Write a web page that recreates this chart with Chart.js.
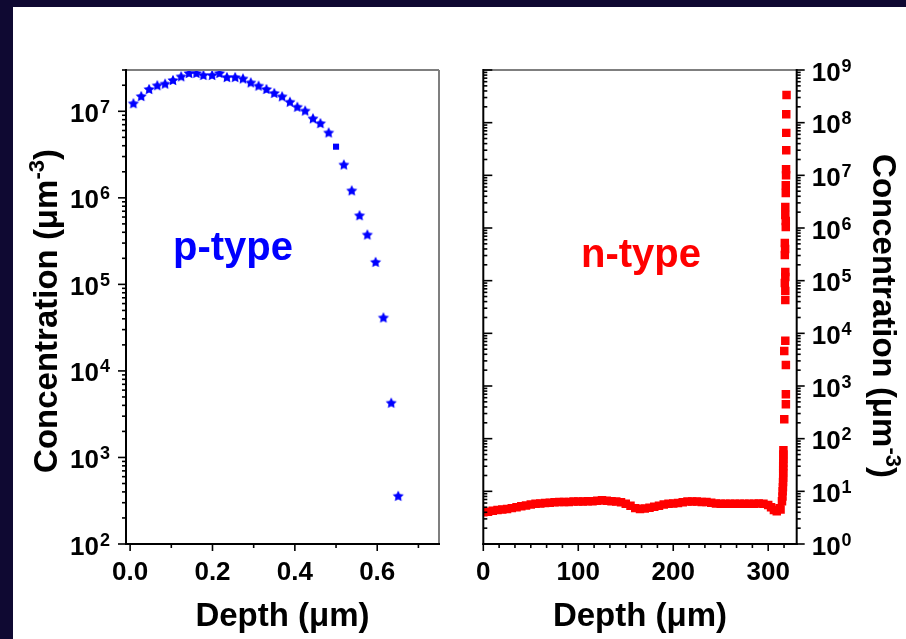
<!DOCTYPE html>
<html>
<head>
<meta charset="utf-8">
<script src="https://cdn.jsdelivr.net/npm/chart.js@4.4.0/dist/chart.umd.min.js"></script>
<style>
  html, body { margin: 0; padding: 0; width: 906px; height: 639px; overflow: hidden; background: #0f0932; }
  #sheet { position: absolute; left: 13px; top: 7px; right: 0; bottom: 0; background: #fff; }
  canvas { position: absolute; top: 0; }
  #pCanvas { left: 0; }
  #nCanvas { left: 462px; }
</style>
</head>
<body>
<div id="sheet"></div>
<canvas id="pCanvas" width="462" height="639"></canvas>
<canvas id="nCanvas" width="444" height="639"></canvas>
<script>
// ---- p-type (left panel), depth in um, concentration in um^-3
const pDepth = [0.008, 0.027, 0.046, 0.066, 0.085, 0.104, 0.124, 0.143, 0.161, 0.178,
                0.199, 0.217, 0.235, 0.255, 0.274, 0.293, 0.312, 0.331, 0.350, 0.369,
                0.388, 0.406, 0.425, 0.444, 0.462, 0.482, 0.500, 0.519, 0.538, 0.557,
                0.576, 0.596, 0.615, 0.634, 0.651];
const pConc = [1.24e7, 1.5e7, 1.81e7, 2.0e7, 2.09e7, 2.3e7, 2.54e7, 2.77e7, 2.77e7, 2.63e7,
               2.63e7, 2.77e7, 2.49e7, 2.49e7, 2.4e7, 2.16e7, 1.98e7, 1.81e7, 1.63e7, 1.49e7,
               1.29e7, 1.13e7, 1.02e7, 8.3e6, 7.3e6, 5.7e6, 3.9e6, 2.43e6, 1.22e6, 6.3e5,
               3.77e5, 1.82e5, 4.15e4, 4.3e3, 361];
const pSquareIndex = 26; // the one point drawn as a square

// ---- n-type (right panel)
const nDepth = [0, 5, 10, 15, 20, 25, 30, 35, 40, 45, 50, 55, 60, 65, 70, 75, 80, 85, 90, 95,
                100, 105, 110, 115, 120, 125, 130, 135, 140, 145, 150, 155, 160, 165, 170, 175,
                180, 185, 190, 195, 200, 205, 210, 215, 220, 225, 230, 235, 240, 245, 250, 255,
                260, 265, 270, 275, 280, 285, 290, 295, 300, 303, 306, 309, 312,
                313, 314.5, 315, 315.2, 315.5, 315.6, 315.8, 315.8, 315.8, 315.8, 315.9, 316, 316, 316,
                316.9, 318.6, 318.6, 318.6, 316.9, 318, 318, 318, 317.5, 318, 318, 317.5, 317.8, 317.5,
                318.5, 318.5, 318, 318, 318.5, 318.5, 318.8, 318.8, 319, 319, 319, 319.3];
const nConc = [4.0, 4.1, 4.3, 4.4, 4.5, 4.6, 4.8, 5.0, 5.2, 5.4, 5.6, 5.8, 5.9, 6.0, 6.1, 6.2, 6.3, 6.3, 6.3, 6.4,
               6.4, 6.4, 6.5, 6.5, 6.6, 6.8, 6.6, 6.5, 6.4, 6.2, 5.8, 5.3, 4.8, 4.6, 4.7, 4.9,
               5.1, 5.3, 5.6, 5.8, 5.9, 6.0, 6.2, 6.4, 6.4, 6.4, 6.3, 6.3, 6.1, 5.9, 5.8, 5.8,
               5.8, 5.8, 5.8, 5.8, 5.8, 5.8, 5.9, 5.8, 5.5, 5.0, 4.4, 4.2, 4.8,
               4.5, 6.5, 8, 10, 12, 15, 18, 22, 26, 30, 35, 42, 50, 60,
               233, 449, 695, 2500, 4600, 7200, 4.3e4, 6.4e4, 9e4, 1.17e5, 1.46e5, 3.07e5, 4e5, 5.2e5,
               1.04e6, 1.36e6, 1.76e6, 2.5e6, 4.6e6, 6.5e6, 1e7, 1.3e7, 3e7, 6.4e7, 1.44e8, 3.35e8];

// ---- axes / ticks
const pXTicks = [0, 0.2, 0.4, 0.6];
const pXTickLabels = ['0.0', '0.2', '0.4', '0.6'];
const pXMinor = [0.1, 0.3, 0.5, 0.7];
const pYExps = [2, 3, 4, 5, 6, 7];
const nXTicks = [0, 100, 200, 300];
const nXTickLabels = ['0', '100', '200', '300'];
const nYExps = [0, 1, 2, 3, 4, 5, 6, 7, 8, 9];

const FONT = '"Liberation Sans", Arial, sans-serif';
const TICK_PX = 26, SUP_PX = 18, SUP_RISE = 9;
const TITLE_PX = 33, TITLE_SUP_PX = 22, TITLE_SUP_RISE = 13;
const BLUE = '#0000ff', RED = '#ff0000', FRAME_GRAY = '#7f7f7f';

function makeStar(r, color) {
  const c = document.createElement('canvas');
  const s = Math.ceil(r * 2) + 2;
  c.width = c.height = s;
  const g = c.getContext('2d');
  g.fillStyle = color;
  g.beginPath();
  for (let i = 0; i < 10; i++) {
    const rad = i % 2 ? r * 0.5 : r;
    const ang = -Math.PI / 2 + i * Math.PI / 5;
    g.lineTo(s / 2 + rad * Math.cos(ang), s / 2 + 0.6 + rad * Math.sin(ang));
  }
  g.closePath();
  g.fill();
  return c;
}
const starImg = makeStar(5.8, BLUE);

function seg(ctx, x1, y1, x2, y2) {
  ctx.beginPath(); ctx.moveTo(x1, y1); ctx.lineTo(x2, y2); ctx.stroke();
}

function drawPow(ctx, exp, x, baseY, align) {
  const main = `bold ${TICK_PX}px ${FONT}`, sup = `bold ${SUP_PX}px ${FONT}`;
  ctx.font = main; const w1 = ctx.measureText('10').width;
  ctx.font = sup; const w2 = ctx.measureText(String(exp)).width;
  const x0 = align === 'right' ? x - w1 - w2 - 1 : x;
  ctx.textAlign = 'left'; ctx.textBaseline = 'alphabetic';
  ctx.font = main; ctx.fillText('10', x0, baseY);
  ctx.font = sup; ctx.fillText(String(exp), x0 + w1 + 1, baseY - SUP_RISE);
}

function drawRich(ctx, parts, cx, cy, angle) {
  ctx.save();
  ctx.translate(cx, cy); ctx.rotate(angle);
  ctx.textAlign = 'left'; ctx.textBaseline = 'alphabetic';
  let total = 0;
  parts.forEach(p => { ctx.font = p.font; p.w = ctx.measureText(p.t).width; total += p.w; });
  let x = -total / 2;
  parts.forEach(p => { ctx.font = p.font; ctx.fillText(p.t, x, p.dy || 0); x += p.w; });
  ctx.restore();
}

const titleFont = `bold ${TITLE_PX}px ${FONT}`;
const titleSup = `bold ${TITLE_SUP_PX}px ${FONT}`;
const concTitle = () => [
  { t: 'Concentration (\u03bcm', font: titleFont },
  { t: '-3', font: titleSup, dy: -TITLE_SUP_RISE },
  { t: ')', font: titleFont }
];
const depthTitle = () => [{ t: 'Depth (\u03bcm)', font: titleFont }];

function logMinors(exps, max) {
  const out = [];
  exps.forEach(e => { for (let m = 2; m <= 9; m++) { const v = m * Math.pow(10, e); if (v <= max) out.push(v); } });
  return out;
}

const pAxes = {
  id: 'pAxes',
  afterDraw(chart) {
    const { ctx, chartArea: a, scales: { x, y } } = chart;
    ctx.save();
    ctx.lineCap = 'butt';
    ctx.strokeStyle = FRAME_GRAY; ctx.lineWidth = 2;
    seg(ctx, a.left, a.top, a.right, a.top);
    seg(ctx, a.right, a.top, a.right, a.bottom);
    ctx.strokeStyle = '#000'; ctx.lineWidth = 2;
    seg(ctx, a.left, a.top - 1, a.left, a.bottom + 1);
    seg(ctx, a.left - 1, a.bottom, a.right + 1, a.bottom);
    ctx.lineWidth = 1.6;
    ctx.fillStyle = '#000';
    pYExps.forEach(e => {
      const py = y.getPixelForValue(Math.pow(10, e));
      seg(ctx, a.left - 8, py, a.left, py);
      drawPow(ctx, e, a.left - 16, py + 10.5, 'right');
    });
    logMinors(pYExps, y.max).forEach(v => {
      const py = y.getPixelForValue(v);
      seg(ctx, a.left - 4, py, a.left, py);
    });
    ctx.font = `bold ${TICK_PX}px ${FONT}`;
    ctx.textAlign = 'center'; ctx.textBaseline = 'alphabetic';
    pXTicks.forEach((v, i) => {
      const px = x.getPixelForValue(v);
      seg(ctx, px, a.bottom, px, a.bottom + 7);
      ctx.fillText(pXTickLabels[i], px, 580);
    });
    pXMinor.forEach(v => {
      const px = x.getPixelForValue(v);
      seg(ctx, px, a.bottom, px, a.bottom + 4);
    });
    drawRich(ctx, depthTitle(), (a.left + a.right) / 2, 626, 0);
    drawRich(ctx, concTitle(), 57, 311, -Math.PI / 2);
    ctx.fillStyle = BLUE;
    ctx.font = `bold 40px ${FONT}`;
    ctx.textAlign = 'center';
    ctx.fillText('p-type', 233, 260);
    ctx.restore();
  }
};

const nAxes = {
  id: 'nAxes',
  afterDraw(chart) {
    const { ctx, chartArea: a, scales: { x, y } } = chart;
    ctx.save();
    ctx.strokeStyle = FRAME_GRAY; ctx.lineWidth = 2;
    seg(ctx, a.left, a.top, a.right, a.top);
    ctx.strokeStyle = '#000'; ctx.lineWidth = 2;
    seg(ctx, a.left, a.top - 1, a.left, a.bottom + 1);
    seg(ctx, a.right, a.top - 1, a.right, a.bottom + 1);
    seg(ctx, a.left - 1, a.bottom, a.right + 1, a.bottom);
    ctx.lineWidth = 1.6;
    ctx.fillStyle = '#000';
    nYExps.forEach(e => {
      const py = y.getPixelForValue(Math.pow(10, e));
      seg(ctx, a.left, py, a.left + 9, py);
      seg(ctx, a.right, py, a.right + 8, py);
      drawPow(ctx, e, a.right + 15, py + 10.5, 'left');
    });
    logMinors(nYExps, y.max).forEach(v => {
      const py = y.getPixelForValue(v);
      seg(ctx, a.left, py, a.left + 4, py);
      seg(ctx, a.right, py, a.right + 4, py);
    });
    ctx.font = `bold ${TICK_PX}px ${FONT}`;
    ctx.textAlign = 'center'; ctx.textBaseline = 'alphabetic';
    nXTicks.forEach((v, i) => {
      const px = x.getPixelForValue(v);
      seg(ctx, px, a.bottom, px, a.bottom + 7);
      ctx.fillText(nXTickLabels[i], px, 580);
    });
    for (let v = 100 / 6; v < x.max; v += 100 / 6) {
      if (Math.abs(v / 100 - Math.round(v / 100)) < 1e-6) continue;
      const px = x.getPixelForValue(v);
      seg(ctx, px, a.bottom, px, a.bottom + 4);
    }
    drawRich(ctx, depthTitle(), (a.left + a.right) / 2, 626, 0);
    drawRich(ctx, concTitle(), 410.7, 316, Math.PI / 2);
    ctx.fillStyle = RED;
    ctx.font = `bold 40px ${FONT}`;
    ctx.textAlign = 'center';
    ctx.fillText('n-type', 179, 266.7);
    ctx.restore();
  }
};

const baseOptions = (padding, xMin, xMax, yMin, yMax) => ({
  responsive: false,
  animation: false,
  events: [],
  layout: { padding },
  plugins: { legend: { display: false }, tooltip: { enabled: false } },
  scales: {
    x: { type: 'linear', min: xMin, max: xMax, display: false },
    y: { type: 'logarithmic', min: yMin, max: yMax, display: false }
  }
});

new Chart(document.getElementById('pCanvas'), {
  type: 'scatter',
  data: {
    datasets: [{
      data: pDepth.map((d, i) => ({ x: d, y: pConc[i] })),
      pointStyle: pDepth.map((_, i) => i === pSquareIndex ? 'rect' : starImg),
      pointRadius: 4.3,
      backgroundColor: BLUE,
      borderWidth: 0,
      clip: 0
    }]
  },
  options: baseOptions({ left: 126, top: 70, right: 23, bottom: 95 }, -0.01, 0.75, 100, 3e7),
  plugins: [pAxes]
});

new Chart(document.getElementById('nCanvas'), {
  type: 'scatter',
  data: {
    datasets: [{
      data: nDepth.map((d, i) => ({ x: d, y: nConc[i] })),
      pointStyle: 'rect',
      pointRadius: 6,
      backgroundColor: RED,
      borderWidth: 0,
      clip: 0
    }]
  },
  options: baseOptions({ left: 21.3, top: 70, right: 109.3, bottom: 95 }, 0, 330, 1, 1e9),
  plugins: [nAxes]
});
</script>
</body>
</html>
